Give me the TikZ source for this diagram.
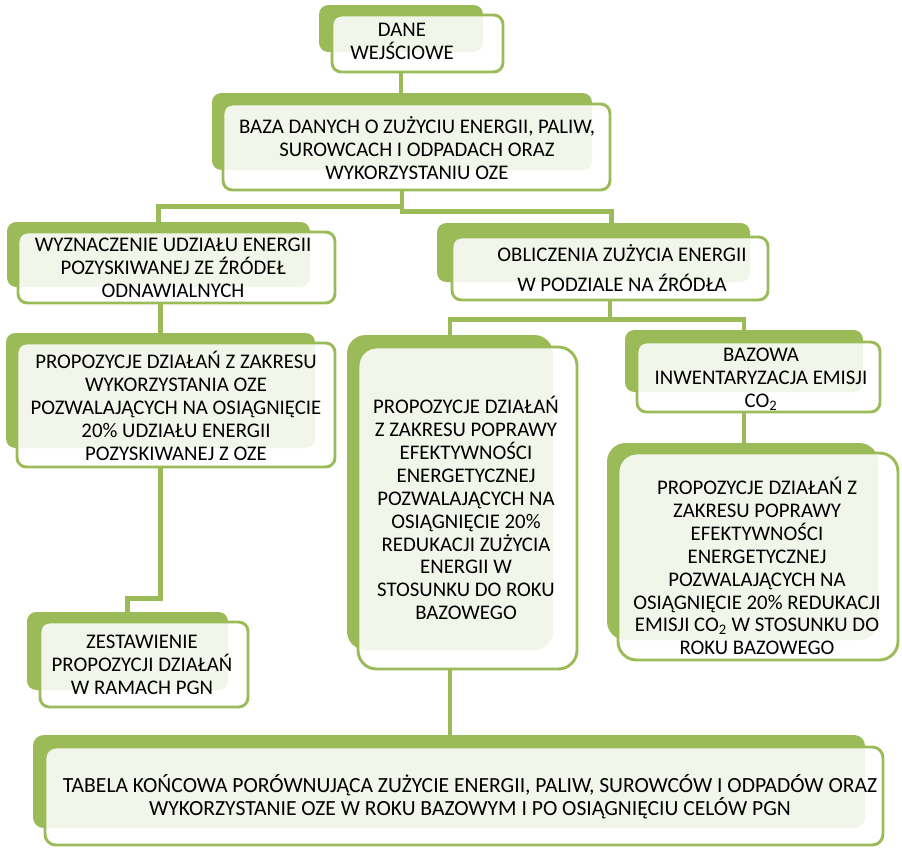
\documentclass[tikz,border=0pt]{standalone}
\usepackage{fontspec}
\setmainfont{Carlito}
\usetikzlibrary{fit,calc}
\definecolor{leaf}{HTML}{9BBB59}

\begin{document}
\begin{tikzpicture}[x=0.75pt,y=-0.75pt,
  back/.style={fill=leaf,inner sep=0pt},
  front/.style={draw=leaf,line width=2.2pt,fill=white,fill opacity=0.88,inner sep=0pt},
  conn/.style={draw=leaf,line width=3.6pt},
  txt/.style={font=\fontsize{15.6}{17.2}\selectfont,align=center,inner sep=0pt}]
\useasboundingbox (0,0) rectangle (902,847);
% back and front plates of every box
\foreach \n/\r/\a/\b/\c/\d/\e/\f/\g/\h in {
  1/7/319/5/483/52/332/15/503/72,
  2/7/212/93/592/170/223/104/610/190,
  3/7/7/222/310/287/18/232/335/303,
  4/7/437/223/750/282/452/237/768/300,
  5/14/347/335/553/650/358/347/577/669,
  6/7/625/330/863/392/637/342/880/412,
  7/14/607/443/878/640/618/453/898/660,
  8/7/6/333/315/448/17/343/335/467,
  9/7/27/612/228/690/40/622/248/707,
  10/8/33/735/865/828/45/747/883/845}{
  \node[back,rounded corners=\r pt,fit={(\a,\b)(\c,\d)}] (b\n) {};
  \node[front,rounded corners=\r pt,fit={(\e,\f)(\g,\h)}] (f\n) {};
}
% texts
\node[txt] (t1) at (402,41) {DANE\\WEJŚCIOWE};
\node[txt] (t2) at (417,148) {BAZA DANYCH O ZUŻYCIU ENERGII, PALIW,\\SUROWCACH I ODPADACH ORAZ\\WYKORZYSTANIU OZE};
\node[txt] (t3) at (173,268) {WYZNACZENIE UDZIAŁU ENERGII\\POZYSKIWANEJ ZE ŹRÓDEŁ\\ODNAWIALNYCH};
\node[txt] (t4) at (622,268) {OBLICZENIA ZUŻYCIA ENERGII\\[5pt]W PODZIALE NA ŹRÓDŁA};
\node[txt] (t5) at (466,508) {PROPOZYCJE DZIAŁAŃ\\Z ZAKRESU POPRAWY\\EFEKTYWNOŚCI\\ENERGETYCZNEJ\\POZWALAJĄCYCH NA\\OSIĄGNIĘCIE 20\%\\REDUKACJI ZUŻYCIA\\ENERGII W\\STOSUNKU DO ROKU\\BAZOWEGO};
\node[txt] (t6) at (761,379) {BAZOWA\\INWENTARYZACJA EMISJI\\CO\textsubscript{2}};
\node[txt] (t7) at (757,566) {PROPOZYCJE DZIAŁAŃ Z\\ZAKRESU POPRAWY\\EFEKTYWNOŚCI\\ENERGETYCZNEJ\\POZWALAJĄCYCH NA\\OSIĄGNIĘCIE 20\% REDUKACJI\\EMISJI CO\textsubscript{2} W STOSUNKU DO\\ROKU BAZOWEGO};
\node[txt] (t8) at (176,406) {PROPOZYCJE DZIAŁAŃ Z ZAKRESU\\WYKORZYSTANIA OZE\\POZWALAJĄCYCH NA OSIĄGNIĘCIE\\20\% UDZIAŁU ENERGII\\POZYSKIWANEJ Z OZE};
\node[txt] (t9) at (142,665) {ZESTAWIENIE\\PROPOZYCJI DZIAŁAŃ\\W RAMACH PGN};
\node[txt,font=\fontsize{16.2}{17.4}\selectfont] (t10) at (470,797) {TABELA KOŃCOWA PORÓWNUJĄCA ZUŻYCIE ENERGII, PALIW, SUROWCÓW I ODPADÓW ORAZ\\WYKORZYSTANIE OZE W ROKU BAZOWYM I PO OSIĄGNIĘCIU CELÓW PGN};
% connectors
\draw[conn] (b1.south |- f1.south) -- (b1.south |- b2.north);
\draw[conn] (b2.south |- f2.south) -- ++(0,15) -| (b3.north);
\draw[conn] (b2.south |- f2.south) -- ++(0,20) -| ($(b4.north)+(18,0)$);
\draw[conn] (b8.north |- f3.south) -- (b8.north);
\draw[conn] (f4.south) -- ++(0,18) -| (b5.north);
\draw[conn] (f4.south) -- ++(0,18) -| (b6.north);
\draw[conn] (b6.south |- f6.south) -- (b6.south |- b7.north);
\draw[conn] (b8.south |- f8.south) -- ++(0,130) -| (b9.north);
\draw[conn] (b5.south |- f5.south) -- (b5.south |- b10.north);
\end{tikzpicture}
\end{document}
